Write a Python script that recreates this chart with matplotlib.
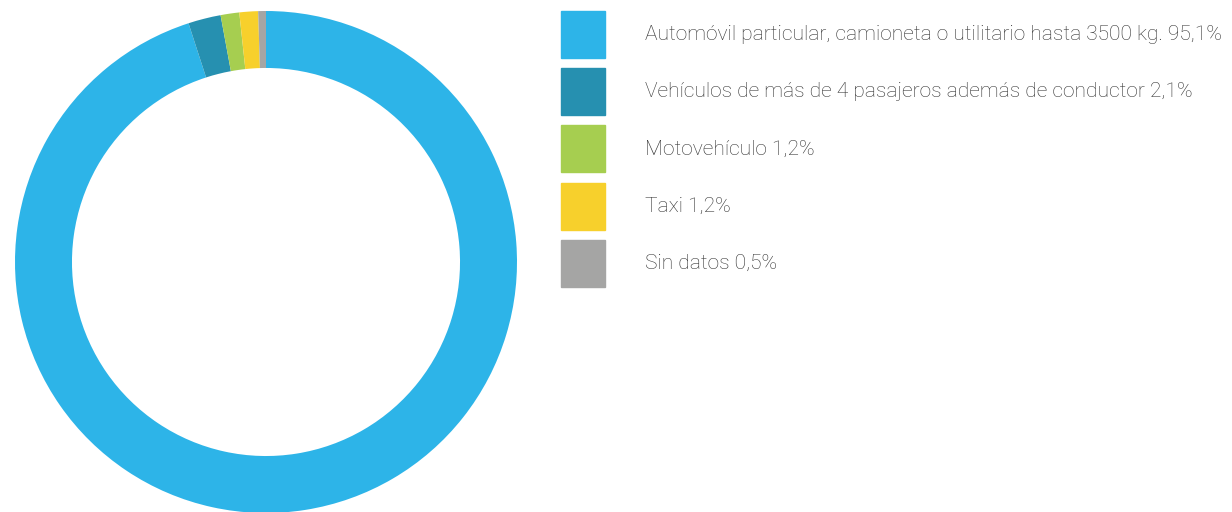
import matplotlib.pyplot as plt
from matplotlib.patches import Rectangle

categories = [
    "Automóvil particular, camioneta o utilitario hasta 3500 kg.",
    "Vehículos de más de 4 pasajeros además de conductor",
    "Motovehículo",
    "Taxi",
    "Sin datos",
]
values = [95.1, 2.1, 1.2, 1.2, 0.5]
labels = ["95,1%", "2,1%", "1,2%", "1,2%", "0,5%"]
colors = ["#2DB4E8", "#2690B0", "#A6CE50", "#F7D02C", "#A5A5A4"]

W, H = 1232, 512
fig = plt.figure(figsize=(W / 100, H / 100), dpi=100)

# donut
cx, cy, r = 266, 250, 251
ax = fig.add_axes([(cx - r) / W, (cy - r) / H, 2 * r / W, 2 * r / H])
ax.pie(values, colors=colors, startangle=90, counterclock=False,
       radius=1, wedgeprops=dict(width=0.227, linewidth=0))
ax.set_xlim(-1, 1)
ax.set_ylim(-1, 1)
ax.set_aspect("equal")
ax.axis("off")

# legend
x0, y_top, sw, sh, step = 561, 11, 44, 47, 57.2
for i, (cat, lab, col) in enumerate(zip(categories, labels, colors)):
    y = y_top + i * step
    fig.patches.append(Rectangle((x0 / W, 1 - (y + sh) / H), sw / W, sh / H,
                                 transform=fig.transFigure, color=col))
    fig.text(645 / W, 1 - (y + sh / 2) / H, cat + " " + lab,
             fontsize=15.1, family="Roboto", weight="light",
             color="#333333", va="center", ha="left")

fig.savefig("out.png", dpi=100)
